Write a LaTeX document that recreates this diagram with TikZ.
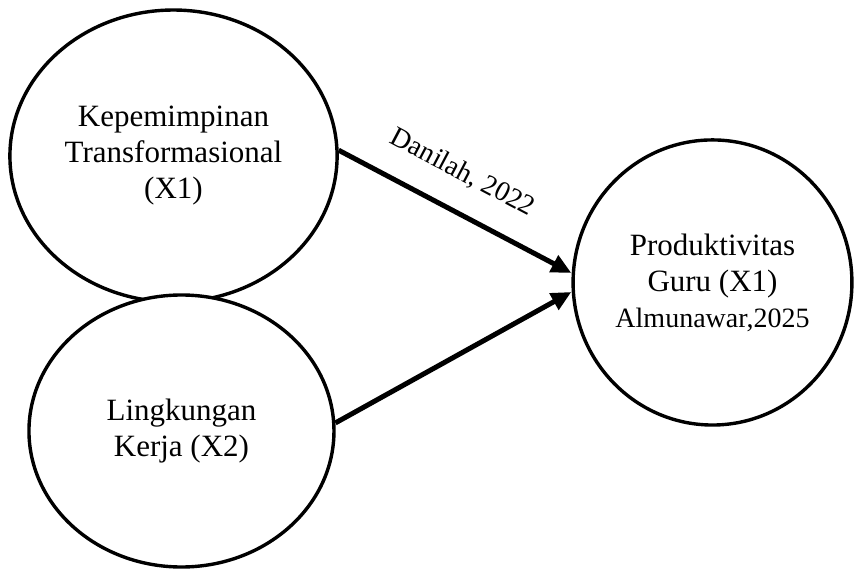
\documentclass[tikz,border=0pt]{standalone}
\usepackage{fontspec}
\setmainfont{Liberation Serif}
\usetikzlibrary{shapes.geometric,arrows.meta}

\begin{document}
\begin{tikzpicture}[
  konstruk/.style={draw, ellipse, line width=1.7pt, inner sep=0pt, align=center, font=\fontsize{15.5}{18}\selectfont},
  jalur/.style={-{Triangle[length=10pt,width=9pt]}, line width=2.5pt},
]
\useasboundingbox (0,0) rectangle (15.113,9.999);
\node[konstruk, minimum width=5.75cm, minimum height=5.13cm] (kt) at (3.049, 7.258) {Kepemimpinan\\Transformasional\\(X1)};
\node[konstruk, fill=white, minimum width=5.36cm, minimum height=4.78cm] (lk) at (3.189, 2.425) {Lingkungan\\Kerja (X2)};
\node[konstruk, minimum width=4.90cm, minimum height=5.01cm] (pg) at (12.521, 5.035) {Produktivitas\\Guru (X1)\\{\fontsize{14}{18}\selectfont Almunawar,2025}};

\draw[jalur] (kt.2) -- ([yshift=4.75pt]pg.west) node[pos=0.456, sloped, above=8.5pt, font=\fontsize{14}{16}\selectfont]{Danilah, 2022};
\draw[jalur] (lk.3) -- ([yshift=-4.75pt]pg.west);
\end{tikzpicture}
\end{document}
